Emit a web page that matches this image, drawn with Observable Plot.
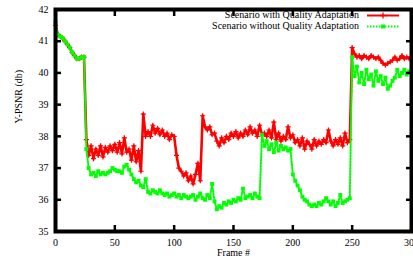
<!DOCTYPE html>
<html><head><meta charset="utf-8">
<script src="https://cdn.jsdelivr.net/npm/d3@7"></script>
<script src="https://cdn.jsdelivr.net/npm/@observablehq/plot@0.6"></script>
<style>html,body{margin:0;padding:0;background:#fff;overflow:hidden} svg{display:block}</style>
</head><body><div id="chart"></div>
<script>
// Frame numbers (every 2nd frame)
const frames = d3.range(0, 301, 2);

// Y-PSNR values, scenario with quality adaptation (red)
const withQA = [
  41.5, 41.2, 41.15, 41.1, 41.0, 40.9, 40.8, 40.65, 40.55, 40.45, 40.45, 40.5, 40.5,
  37.9, 37.4, 37.7, 37.3, 37.6, 37.4, 37.7, 37.35, 37.65, 37.5, 37.7, 37.55,
  37.75, 37.5, 37.8, 37.45, 37.95, 37.5, 37.6, 37.25, 37.7, 37.2, 37.55, 36.9,
  38.7, 38.0, 38.15, 38.0, 38.35, 38.1, 38.25, 38.05, 38.2, 38.0, 38.1, 37.9,
  38.05, 38.0, 37.4, 37.0, 36.9, 36.75, 36.85, 36.6, 36.75, 36.5, 36.8, 37.15,
  36.6, 38.65, 38.3, 38.2, 38.3, 38.05, 38.1, 37.85, 37.7, 37.95, 37.8, 38.0,
  37.9, 38.1, 38.0, 38.15, 37.95, 38.1, 38.0, 38.2, 38.05, 38.3, 38.1, 38.2,
  38.0, 38.35, 38.05, 38.1, 38.0, 38.2, 37.95, 38.45, 37.9, 38.1, 37.85, 38.0,
  37.9, 38.3, 37.95, 38.05, 37.8, 37.9, 37.7, 37.95, 37.6, 37.85, 37.75, 37.6,
  37.9, 37.7, 37.85, 37.75, 37.9, 37.8, 38.2, 37.85, 37.7, 37.9, 37.75, 37.95,
  37.7, 38.1, 37.8, 37.9, 40.8, 40.6, 40.5, 40.55, 40.45, 40.55, 40.5, 40.45,
  40.55, 40.5, 40.45, 40.5, 40.4, 40.3, 40.25, 40.3, 40.35, 40.4, 40.5, 40.4,
  40.45, 40.55, 40.45, 40.5, 40.45, 40.5
];

// Y-PSNR values, scenario without quality adaptation (green)
const withoutQA = [
  41.6, 41.2, 41.15, 41.1, 41.0, 40.9, 40.8, 40.65, 40.55, 40.45, 40.45, 40.5, 40.5,
  37.6, 37.0, 36.8, 36.85, 36.75, 36.9, 36.8, 36.85, 36.8, 36.85, 36.9, 37.0,
  36.95, 36.9, 36.9, 36.85, 37.05, 37.1, 36.95, 36.8, 36.65, 36.55, 36.6, 36.45,
  36.4, 36.65, 36.25, 36.2, 36.3, 36.25, 36.2, 36.3, 36.2, 36.15, 36.2, 36.1,
  36.15, 36.2, 36.1, 36.15, 36.05, 36.15, 36.1, 36.05, 36.1, 36.15, 36.0, 36.1,
  36.2, 36.05, 36.0, 36.15, 36.05, 36.5, 35.95, 35.7, 35.8, 35.75, 35.9, 35.85,
  35.95, 35.9, 36.0, 35.95, 36.05, 36.0, 36.35, 36.05, 36.1, 36.15, 36.05, 36.2,
  36.1, 36.05, 38.05, 37.7, 37.85, 37.6, 37.75, 37.5, 37.8, 37.55, 37.7, 37.6,
  37.65, 37.55, 37.6, 36.8, 36.6, 36.45, 36.3, 36.1, 36.0, 35.95, 35.85, 35.8,
  35.85, 35.8, 35.9, 35.85, 35.95, 36.05, 35.95, 35.85, 35.95, 35.8, 35.9, 36.15,
  35.9, 35.95, 36.0, 36.05, 40.5, 39.9, 40.2, 39.7, 40.0, 39.65, 40.1, 39.8,
  39.95, 39.6, 40.05, 39.75, 39.9, 39.65, 39.85, 39.5, 39.6, 39.75, 39.85, 40.1,
  39.9, 40.0, 40.1, 39.95, 40.05, 40.0
];

const xTicks = [0, 50, 100, 150, 200, 250, 300];
const yTicks = [35, 36, 37, 38, 39, 40, 41, 42];
const seriesNames = ["Scenario with Quality Adaptation", "Scenario without Quality Adaptation"];
const seriesColors = ["#ff0000", "#00ff00"];
const xLabel = "Frame #";
const yLabel = "Y-PSNR (db)";

const redData = frames.map((f, i) => ({frame: f, psnr: withQA[i]}));
const greenData = frames.map((f, i) => ({frame: f, psnr: withoutQA[i]}));

const chart = Plot.plot({
  width: 413, height: 266,
  marginLeft: 55, marginRight: 2, marginTop: 9, marginBottom: 35,
  style: {fontFamily: "Liberation Serif", fontSize: "10px", background: "#fff", color: "#000", overflow: "visible"},
  x: {domain: [0, 300]},
  y: {domain: [35, 42]},
  marks: [
    Plot.line(redData, {x: "frame", y: "psnr", stroke: seriesColors[0], strokeWidth: 2.6}),
    Plot.dot(redData, {x: "frame", y: "psnr", symbol: "plus", r: 1.8, stroke: seriesColors[0], strokeWidth: 1.2}),
    Plot.line(greenData, {x: "frame", y: "psnr", stroke: seriesColors[1], strokeWidth: 2, strokeDasharray: "1.5,1.5"}),
    Plot.dot(greenData, {x: "frame", y: "psnr", symbol: "square", r: 2.2, fill: seriesColors[1], stroke: "none"}),
    Plot.frame({stroke: "#000", strokeWidth: 4}),
    Plot.axisY(yTicks, {anchor: "left", tickSize: -6, tickPadding: 13, strokeWidth: 2.5, label: null}),
    Plot.axisY(yTicks, {anchor: "right", tickSize: -6, tickFormat: () => "", strokeWidth: 2.5, label: null}),
    Plot.axisX(xTicks, {anchor: "bottom", tickSize: -6, tickPadding: 13, strokeWidth: 2.5, label: null}),
    Plot.axisX(xTicks, {anchor: "top", tickSize: -6, tickFormat: () => "", strokeWidth: 2.5, label: null}),
    Plot.text([yLabel], {frameAnchor: "left", rotate: -90, dx: -37, dy: 3, fontSize: 10}),
    Plot.text([xLabel], {frameAnchor: "bottom", dy: 24, fontSize: 10})
  ]
});
document.getElementById("chart").appendChild(chart);

// Legend (inside the frame, top-right)
const svg = d3.select(chart);
const lg = svg.append("g").attr("font-family", "Liberation Serif").attr("font-size", 10);
seriesNames.forEach((name, i) => {
  const yy = 15.5 + i * 11;
  lg.append("text").attr("x", 359).attr("y", yy).attr("text-anchor", "end")
    .attr("dominant-baseline", "middle").attr("fill", "#000").text(name);
  lg.append("line").attr("x1", 367).attr("x2", 399).attr("y1", yy).attr("y2", yy)
    .attr("stroke", seriesColors[i]).attr("stroke-width", 2)
    .attr("stroke-dasharray", i === 1 ? "1.5,1.5" : null);
  if (i === 0) {
    lg.append("path").attr("d", `M380,${yy}h6M383,${yy - 3}v6`).attr("stroke", seriesColors[i]).attr("stroke-width", 1.3);
  } else {
    lg.append("rect").attr("x", 381).attr("y", yy - 2).attr("width", 4).attr("height", 4).attr("fill", seriesColors[i]);
  }
});
</script>
</body></html>
